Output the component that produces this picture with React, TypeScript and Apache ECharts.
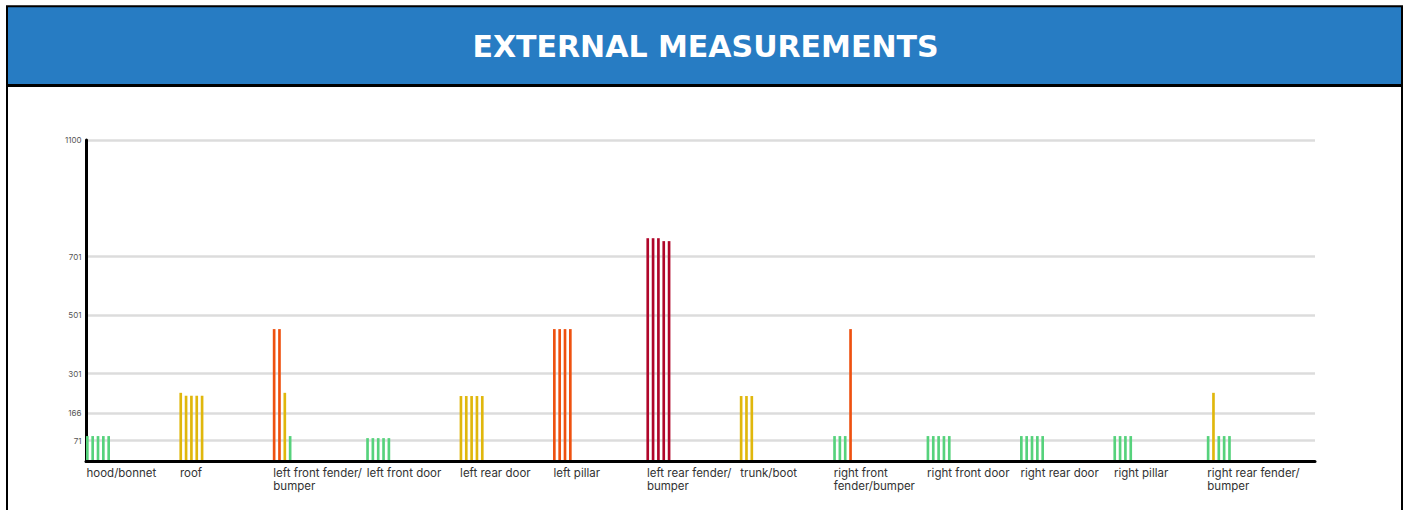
import React, { useEffect, useRef } from "react";
import * as echarts from "echarts";

const categories = [
  "hood/bonnet",
  "roof",
  "left front fender/bumper",
  "left front door",
  "left rear door",
  "left pillar",
  "left rear fender/bumper",
  "trunk/boot",
  "right front fender/bumper",
  "right front door",
  "right rear door",
  "right pillar",
  "right rear fender/bumper",
];

const categoryLines: string[][] = [
  ["hood/bonnet"],
  ["roof"],
  ["left front fender/", "bumper"],
  ["left front door"],
  ["left rear door"],
  ["left pillar"],
  ["left rear fender/", "bumper"],
  ["trunk/boot"],
  ["right front", "fender/bumper"],
  ["right front door"],
  ["right rear door"],
  ["right pillar"],
  ["right rear fender/", "bumper"],
];

const measure1 = [87, 235, 453, 80, 224, 453, 764, 224, 87, 87, 87, 87, 87];
const measure2 = [87, 225, 453, 80, 224, 453, 764, 224, 87, 87, 87, 87, 235];
const measure3 = [87, 225, 235, 80, 224, 453, 764, 224, 87, 87, 87, 87, 87];
const measure4 = [87, 225, 87, 80, 224, 453, 754, null, 453, 87, 87, 87, 87];
const measure5 = [87, 225, null, 80, 224, null, 754, null, null, 87, 87, null, 87];

const yTicks = [71, 166, 301, 501, 701, 1100];
const yMax = 1100;

const TITLE = "EXTERNAL MEASUREMENTS";
const FONT = "Inter, 'DejaVu Sans', sans-serif";
const TITLE_FONT = "'DejaVu Sans', Inter, sans-serif";

const GREEN = "#56d27c";
const YELLOW = "#e0b70c";
const ORANGE = "#ee5110";
const DARKRED = "#b0062a";

function barColor(v: number) {
  if (v >= 600) return DARKRED;
  if (v >= 300) return ORANGE;
  if (v >= 150) return YELLOW;
  return GREEN;
}

export default function App() {
  const ref = useRef<HTMLDivElement>(null);
  useEffect(() => {
    if (!ref.current) return;
    const chart = echarts.init(ref.current, null, { renderer: "svg" });
    const gridLeft = 86;
    const gridTop = 140;
    const gridBottom = 48.5;
    const bandW = 93.4;
    const barGridWidth = bandW * categories.length;
    const totalSlots = 18;
    const realSeries = [measure1, measure2, measure3, measure4, measure5];
    const series: any[] = [];
    for (let i = 0; i < totalSlots; i++) {
      const d = i < realSeries.length ? realSeries[i] : [];
      series.push({
        type: "bar",
        name: i < realSeries.length ? "Measurement " + (i + 1) : "slot" + i,
        xAxisIndex: 0,
        yAxisIndex: 0,
        data: d,
        barWidth: bandW / 35,
        barGap: "100%",
        silent: true,
        z: 3,
        itemStyle: {
          color: (p: any) => barColor(p.value as number),
        },
      });
    }
    chart.setOption({
      animation: false,
      graphic: [
        {
          type: "rect",
          z: 0,
          shape: { x: 7, y: 6.3, width: 1395, height: 79.4 },
          style: { fill: "#277cc3" },
        },
        {
          type: "line",
          z: 1,
          shape: { x1: 7, y1: 85.6, x2: 1402, y2: 85.6 },
          style: { stroke: "#000", lineWidth: 3 },
        },
        {
          type: "rect",
          z: 2,
          shape: { x: 7, y: 6.3, width: 1395, height: 600 },
          style: { fill: "none", stroke: "#000", lineWidth: 2 },
        },
        {
          type: "text",
          z: 3,
          x: 705.5,
          y: 46,
          style: {
            text: TITLE,
            align: "center",
            verticalAlign: "middle",
            fontSize: 30,
            fontWeight: "bold",
            fontFamily: TITLE_FONT,
            fill: "#ffffff",
          },
        },
      ],
      grid: [
        {
          left: gridLeft,
          top: gridTop,
          bottom: gridBottom,
          width: barGridWidth,
          containLabel: false,
        },
        {
          left: gridLeft,
          right: 94,
          top: gridTop,
          bottom: gridBottom,
          containLabel: false,
        },
      ],
      xAxis: [
        {
          type: "category",
          gridIndex: 0,
          data: categories,
          boundaryGap: true,
          axisLine: { show: false },
          axisTick: { show: false },
          splitLine: { show: false },
          axisLabel: {
            interval: 0,
            margin: 5,
            formatter: (_v: string, idx: number) =>
              categoryLines[idx].map((l) => "{a|" + l + "}").join("\n"),
            rich: {
              a: {
                width: bandW - 1,
                align: "left",
                fontSize: 11.5,
                lineHeight: 13,
                color: "#333",
                fontFamily: FONT,
              },
            },
          },
        },
        {
          type: "value",
          gridIndex: 1,
          min: 0,
          max: 1,
          axisLine: { show: true, onZero: false, lineStyle: { color: "#000", width: 3 } },
          axisTick: { show: false },
          axisLabel: { show: false },
          splitLine: { show: false },
          z: 5,
        },
      ],
      yAxis: [
        {
          type: "value",
          gridIndex: 0,
          min: 0,
          max: yMax,
          show: false,
          splitLine: { show: false },
        },
        {
          type: "value",
          gridIndex: 1,
          min: 0,
          max: yMax,
          axisLine: { show: true, onZero: false, lineStyle: { color: "#000", width: 3 } },
          axisTick: { show: false, customValues: yTicks },
          axisLabel: {
            customValues: yTicks,
            formatter: (v: number) => String(v),
            fontSize: 8,
            color: "#555",
            margin: 4.5,
            fontFamily: FONT,
          },
          splitLine: { show: true, lineStyle: { color: "#dcdcdc", width: 2.5 } },
        },
      ],
      series,
    });
    return () => chart.dispose();
  }, []);
  return (
    <div
      ref={ref}
      style={{ position: "absolute", left: 0, top: 0, width: 1409, height: 510 }}
    />
  );
}
